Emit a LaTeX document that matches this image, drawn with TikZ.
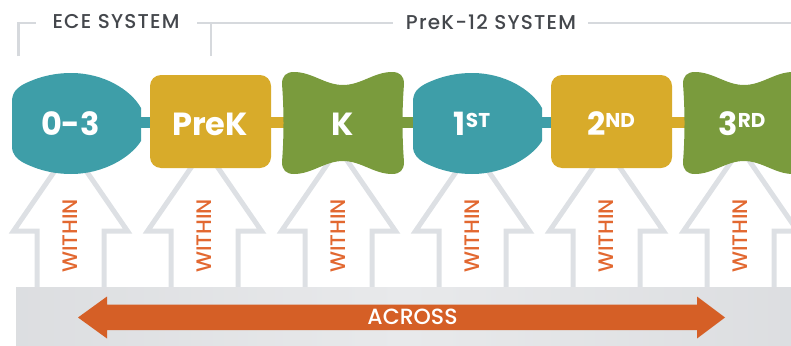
\documentclass[tikz,border=0pt]{standalone}
\usepackage{fontspec}
\setmainfont{Poppins}
\newfontfamily\hdrfont[LetterSpace=6, UprightFont=*-Medium]{Poppins}
\newfontfamily\medfont[UprightFont=*-Medium]{Poppins}
\definecolor{cteal}{RGB}{62,158,168}
\definecolor{cgold}{RGB}{216,171,42}
\definecolor{cgreen}{RGB}{122,155,61}
\definecolor{corange}{RGB}{213,95,38}
\definecolor{cwithin}{RGB}{226,104,48}
\definecolor{clinegray}{RGB}{214,217,221}
\definecolor{carrowgray}{RGB}{221,224,228}
\definecolor{ctxtgray}{RGB}{68,71,76}
\definecolor{bardark}{RGB}{189,191,195}
\definecolor{barmid}{RGB}{214,216,219}
\definecolor{barlight}{RGB}{232,233,235}
\definecolor{bardarkr}{RGB}{196,198,201}
\pgfdeclarehorizontalshading{barshade}{100bp}{color(0bp)=(bardark); color(12bp)=(barmid); color(50bp)=(barlight); color(88bp)=(barmid); color(100bp)=(bardarkr)}
\newcommand\ordsup[1]{\raisebox{8.5pt}{\fontsize{20}{20}\selectfont #1}}
\begin{document}
\begin{tikzpicture}[x=1pt,y=-1pt,
  hdr/.style={text=ctxtgray, font=\hdrfont\fontsize{20}{20}\selectfont, inner sep=0pt},
  lbl/.style={text=white, font=\bfseries\fontsize{32}{32}\selectfont, inner sep=0pt, anchor=base},
  within/.style={text=cwithin, font=\medfont\fontsize{21}{21}\selectfont, rotate=90, inner sep=0pt},
  bracket/.style={draw=clinegray, line width=2.5pt},
  uparrow/.style={draw=carrowgray, line width=5pt, line join=miter},
  linkbar/.style={line width=11pt},
  lemonshape/.style={fill=cteal},
  boneshape/.style={fill=cgreen},
  boxshape/.style={fill=cgold, rounded corners=11pt}]
\useasboundingbox (0,0) rectangle (791,345);

% headers
\node[hdr] (ece) at (116,22) {ECE SYSTEM};
\node[hdr] (prek12) at (491,22) {PreK-12 SYSTEM};
\coordinate (eceL) at (18.5,56);
\coordinate (eceLt) at (36,23);
\coordinate (prekA) at (197,23);
\coordinate (prekB) at (393,23);
\coordinate (prekV) at (211,56);
\coordinate (prekC) at (588,23);
\coordinate (prekD) at (791,23);
\draw[bracket] (eceL) |- (eceLt);
\draw[bracket] (prekA) -- (prekB);
\draw[bracket] (prekV) -- (prekV |- prekA);
\draw[bracket] (prekC) -- (prekD);

% within arrows
\foreach \c in {70.5,204.5,338.5,472.5,606.5,740.5}{
  \draw[uparrow] (\c-33.5,300) -- (\c-33.5,231) -- (\c-57,231) -- (\c,148) -- (\c+57,231) -- (\c+33.5,231) -- (\c+33.5,300);
  \node[within] at (\c-0.5,236) {WITHIN};
}

% across bar
\shade[shading=barshade] (16,287) rectangle (791,345);
\fill[corange] (78,317.5) -- (107,296.5) -- (107,304.5) -- (697,304.5) -- (697,296.5) -- (725,317.5) -- (697,338.5) -- (697,330) -- (107,330) -- (107,338.5) -- cycle;
\node[text=white, font=\medfont\fontsize{22}{22}\selectfont, inner sep=0pt] (across) at (412.5,317) {ACROSS};

% link bars
\coordinate (l1a) at (136,122.5); \coordinate (l1b) at (156,122.5);
\coordinate (l2a) at (265,122.5); \coordinate (l2b) at (288,122.5);
\coordinate (l3a) at (398,122.5); \coordinate (l3b) at (418,122.5);
\coordinate (l4a) at (537,122.5); \coordinate (l4b) at (557,122.5);
\coordinate (l5a) at (666,122.5); \coordinate (l5b) at (689,122.5);
\draw[linkbar, cteal] (l1a) -- (l1b);
\draw[linkbar, cgold] (l2a) -- (l2b);
\draw[linkbar, cgreen] (l3a) -- (l3b);
\draw[linkbar, cteal] (l4a) -- (l4b);
\draw[linkbar, cgold] (l5a) -- (l5b);

% shapes
\foreach \dx in {0,401}{
  \begin{scope}[shift={(\dx,0)}]
    \fill[lemonshape] (12,146) -- (12,102) .. controls (12,92) and (17,88) .. (24,84) .. controls (38,77) and (54,73) .. (71,73) .. controls (104,73) and (131,90) .. (141,108) -- (141,141) .. controls (131,157) and (104,174) .. (71,174) .. controls (54,174) and (38,170) .. (24,163) .. controls (17,159) and (12,155) .. (12,146) -- cycle;
    \fill[boxshape] (150,75) rectangle (271,168);
    \fill[boneshape] (282,84) .. controls (282,76) and (286,72) .. (294,72) .. controls (312,72) and (325,85) .. (343,85) .. controls (361,85) and (374,72) .. (392,72) .. controls (400,72) and (404,76) .. (404,84) .. controls (402,110) and (402,136) .. (404,162) .. controls (404,170) and (400,174) .. (392,174) .. controls (374,174) and (361,161) .. (343,161) .. controls (325,161) and (312,174) .. (294,174) .. controls (286,174) and (282,170) .. (282,162) .. controls (284,136) and (284,110) .. (282,84) -- cycle;
  \end{scope}
}

% labels
\node[lbl] (n03) at (70.5,135.5) {0-3};
\node[lbl] (nprek) at (210,135.5) {PreK};
\node[lbl] (nk) at (343,135.5) {K};
\node[lbl] (n1) at (472,135.5) {1\ordsup{ST}};
\node[lbl] (n2) at (611,135.5) {2\ordsup{ND}};
\node[lbl] (n3) at (742,135.5) {3\ordsup{RD}};
\end{tikzpicture}
\end{document}
